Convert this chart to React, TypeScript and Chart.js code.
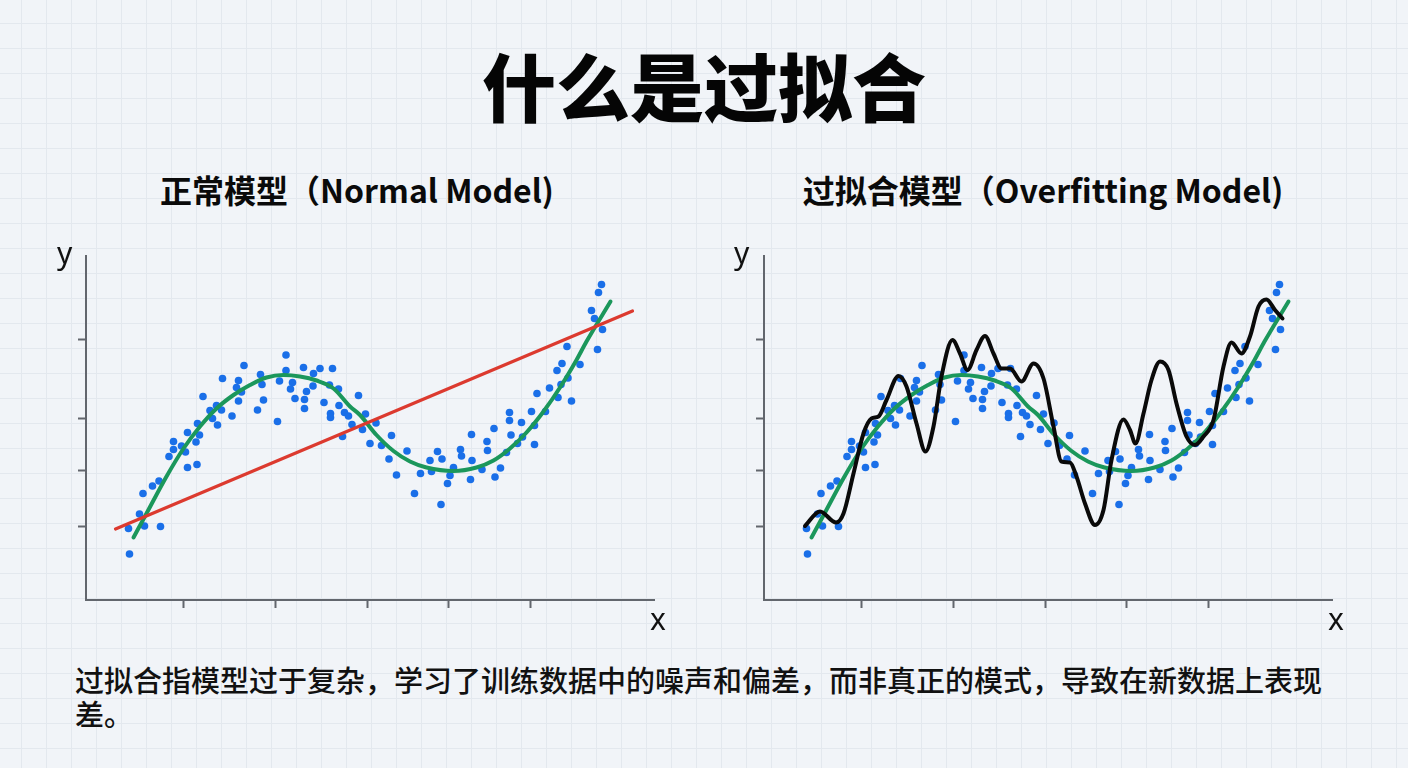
import React, { useEffect, useRef } from "react";
import { Chart, registerables } from "chart.js";

Chart.register(...registerables);

// Noisy training samples (shared by both panels)
const sampleX = [
  0.85, 0.87, 1.07, 1.17, 1.49, 1.14, 1.33, 1.46, 1.66, 1.75, 1.75, 1.91, 1.99, 2.03, 2.22, 2.03,
  2.2, 2.27, 2.23, 2.34, 2.48, 2.53, 2.63, 2.61, 2.71, 2.73, 2.92, 3.01, 3.05, 3.11, 3.05, 3.16,
  3.43, 3.49, 3.52, 3.55, 3.83, 3.87, 4.0, 4.0, 4.09, 4.13, 4.18, 4.35, 4.41, 4.37, 4.37, 4.54,
  4.55, 4.68, 4.93, 4.76, 4.87, 5.05, 5.06, 4.89, 4.89, 5.17, 5.25, 5.13, 5.45, 5.59, 5.53, 5.8,
  5.68, 5.91, 6.11, 6.06, 6.21, 6.42, 6.57, 6.69, 6.88, 6.91, 7.03, 7.12, 7.1, 7.23, 7.28, 7.35,
  7.49, 7.51, 7.69, 7.72, 7.71, 7.92, 8.02, 8.03, 8.16, 8.18, 8.29, 8.41, 8.47, 8.47, 8.5, 8.63,
  8.71, 8.73, 8.91, 8.97, 8.97, 9.02, 9.19, 9.27, 9.42, 9.44, 9.5, 9.52, 9.64, 9.71, 9.62, 9.88,
  10.23, 10.31, 10.25, 10.11, 10.17, 10.33, 5.32,
];
const sampleY = [
  1.43, 0.92, 1.72, 1.48, 1.47, 2.13, 2.28, 2.38, 2.87, 3.01, 3.17, 3.08, 2.96, 2.65, 2.71, 3.35,
  3.16, 3.3, 3.53, 4.07, 3.79, 3.63, 3.5, 3.89, 3.8, 4.43, 3.68, 4.25, 4.39, 4.16, 3.98, 4.69,
  3.8, 4.51, 4.31, 4.0, 3.57, 4.38, 4.9, 4.59, 4.22, 4.35, 4.03, 4.65, 4.17, 4.01, 3.83, 4.28,
  4.53, 4.63, 4.63, 3.95, 4.3, 4.22, 3.89, 3.73, 3.65, 3.75, 3.68, 3.27, 4.09, 3.72, 3.41, 3.54,
  3.13, 3.09, 3.29, 2.82, 2.5, 2.98, 2.13, 2.53, 2.79, 2.57, 2.97, 2.82, 1.91, 2.33, 2.49, 2.65,
  3.01, 2.88, 2.41, 2.79, 3.31, 2.61, 3.17, 2.99, 3.43, 2.46, 2.64, 2.95, 3.75, 3.59, 3.3, 3.13,
  3.55, 3.26, 3.77, 3.49, 3.11, 4.13, 3.77, 4.24, 4.59, 4.05, 4.31, 4.73, 4.44, 3.98, 5.07, 4.71,
  5.01, 6.31, 6.15, 5.79, 5.63, 5.41, 3.51,
];

// Well-fitted smooth model
const fitX = [
  0.95, 1.21, 1.61, 1.95, 2.28, 2.61, 2.95, 3.28, 3.61, 3.95, 4.28, 4.61, 4.95, 5.28, 5.48,
  5.81, 6.15, 6.48, 6.81, 7.35, 7.81, 8.15, 8.48, 8.81, 9.15, 9.48, 9.81, 10.01, 10.49,
];
const fitY = [
  1.25, 1.73, 2.47, 3.03, 3.47, 3.83, 4.1, 4.3, 4.45, 4.5, 4.47, 4.39, 4.23, 3.87, 3.7,
  3.3, 2.98, 2.77, 2.65, 2.58, 2.65, 2.79, 3.03, 3.35, 3.77, 4.25, 4.8, 5.17, 5.97,
];

// Straight-line model
const linearX = [0.59, 10.93];
const linearY = [1.42, 5.78];

// Overfitted model chasing the noise
const overfitX = [
  0.82, 1.12, 1.44, 1.59, 1.79, 1.99, 2.15, 2.29, 2.45, 2.69, 2.85, 3.05, 3.23, 3.39, 3.55,
  3.77, 3.92, 4.07, 4.25, 4.42, 4.59, 4.75, 4.92, 5.15, 5.39, 5.59, 5.79, 5.95, 6.12, 6.25,
  6.42, 6.62, 6.79, 6.95, 7.19, 7.32, 7.43, 7.59, 7.75, 7.92, 8.09, 8.25, 8.45, 8.62, 8.79,
  8.99, 9.19, 9.35, 9.55, 9.72, 9.89, 10.05, 10.22, 10.37,
];
const overfitY = [
  1.48, 1.77, 1.55, 1.73, 2.53, 3.33, 3.63, 3.67, 4.0, 4.48, 4.27, 3.53, 2.97, 3.47, 4.47,
  5.2, 4.93, 4.6, 5.0, 5.28, 4.93, 4.63, 4.63, 4.37, 4.73, 4.43, 3.47, 2.77, 2.75, 2.47,
  1.93, 1.5, 1.8, 2.8, 3.61, 3.4, 3.13, 3.73, 4.4, 4.77, 4.6, 3.93, 3.27, 3.1, 3.27,
  3.6, 4.67, 5.15, 4.93, 5.27, 5.87, 6.01, 5.8, 5.63,
];

const xTickValues = [1.94, 3.78, 5.62, 7.24, 8.88];
const yTickValues = [1.47, 2.59, 3.63, 5.21];
const X_MAX = 11.36;
const Y_MAX = 6.88;

const AXIS_COLOR = "#62666d";
const DOT_COLOR = "#1a6fe8";
const FIT_COLOR = "#1b975b";
const LINEAR_COLOR = "#dc3a2f";
const OVERFIT_COLOR = "#0a0a0a";

const zip = (xs: number[], ys: number[]) => xs.map((x, i) => ({ x, y: ys[i] }));

type LineSpec = { xs: number[]; ys: number[]; color: string; width: number; smooth: boolean };

function buildChart(canvas: HTMLCanvasElement, lines: LineSpec[]) {
  const lineSets = lines.map((l) => ({
    data: zip(l.xs, l.ys),
    showLine: true,
    borderColor: l.color,
    borderWidth: l.width,
    pointRadius: 0,
    fill: false,
    cubicInterpolationMode: l.smooth ? ("monotone" as const) : ("default" as const),
    borderCapStyle: "round" as const,
  }));
  const axis = (ticks: number[], min: number, max: number) => ({
    type: "linear" as const,
    min,
    max,
    afterBuildTicks: (a: any) => {
      a.ticks = ticks.map((value) => ({ value }));
    },
    ticks: { display: false },
    grid: {
      display: true,
      drawOnChartArea: false,
      drawTicks: true,
      tickLength: 8,
      tickColor: AXIS_COLOR,
      tickWidth: 2,
    },
    border: { display: true, color: AXIS_COLOR, width: 2 },
  });
  return new Chart(canvas, {
    type: "scatter",
    data: {
      datasets: [
        ...lineSets,
        {
          data: zip(sampleX, sampleY),
          backgroundColor: DOT_COLOR,
          borderWidth: 0,
          pointRadius: 3.8,
        },
      ],
    },
    options: {
      animation: false,
      responsive: false,
      devicePixelRatio: 1,
      events: [],
      layout: { padding: { left: 38, top: 16, right: 26, bottom: 12 } },
      plugins: { legend: { display: false }, tooltip: { enabled: false } },
      scales: {
        x: axis(xTickValues, 0, X_MAX),
        y: axis(yTickValues, 0, Y_MAX),
      },
    },
  });
}

function Panel({ left, lines }: { left: number; lines: LineSpec[] }) {
  const ref = useRef<HTMLCanvasElement>(null);
  useEffect(() => {
    if (!ref.current) return;
    const chart = buildChart(ref.current, lines);
    return () => chart.destroy();
  }, []);
  return (
    <canvas
      ref={ref}
      width={640}
      height={380}
      style={{ position: "absolute", left, top: 240, width: 640, height: 380 }}
    />
  );
}

const cjk = '"Noto Sans CJK SC", "Noto Sans", sans-serif';
const axisLetter: React.CSSProperties = {
  position: "absolute",
  fontFamily: '"Noto Sans", "DejaVu Sans", sans-serif',
  fontSize: 30,
  lineHeight: "30px",
  color: "#111",
};
const subtitle: React.CSSProperties = {
  position: "absolute",
  width: 600,
  top: 172,
  textAlign: "center",
  fontSize: 32,
  lineHeight: "34px",
  fontWeight: 700,
  color: "#0a0a0a",
};

export default function App() {
  return (
    <div
      style={{
        position: "fixed",
        left: 0,
        top: 0,
        width: 1408,
        height: 768,
        overflow: "hidden",
        backgroundColor: "#f1f4f8",
        backgroundImage:
          "linear-gradient(to right, #e3e8ee 1px, transparent 1px), linear-gradient(to bottom, #e3e8ee 1px, transparent 1px)",
        backgroundSize: "25px 25px",
        backgroundPosition: "21px 23px",
        fontFamily: cjk,
      }}
    >
      <div
        style={{
          position: "absolute",
          left: 0,
          top: 47,
          width: 1408,
          textAlign: "center",
          fontSize: 74,
          lineHeight: "74px",
          fontWeight: 900,
          color: "#050505",
        }}
      >
        什么是过拟合
      </div>
      <div style={{ ...subtitle, left: 57 }}>正常模型（Normal Model)</div>
      <div style={{ ...subtitle, left: 743 }}>过拟合模型（Overfitting Model)</div>

      <Panel
        left={40}
        lines={[
          { xs: linearX, ys: linearY, color: LINEAR_COLOR, width: 3.2, smooth: false },
          { xs: fitX, ys: fitY, color: FIT_COLOR, width: 4, smooth: true },
        ]}
      />
      <Panel
        left={718}
        lines={[
          { xs: overfitX, ys: overfitY, color: OVERFIT_COLOR, width: 4, smooth: true },
          { xs: fitX, ys: fitY, color: FIT_COLOR, width: 4, smooth: true },
        ]}
      />

      <span style={{ ...axisLetter, left: 57, top: 238 }}>y</span>
      <span style={{ ...axisLetter, left: 650, top: 604 }}>x</span>
      <span style={{ ...axisLetter, left: 734, top: 238 }}>y</span>
      <span style={{ ...axisLetter, left: 1328, top: 604 }}>x</span>

      <div
        style={{
          position: "absolute",
          left: 75,
          top: 662,
          fontSize: 29,
          lineHeight: "34px",
          fontWeight: 500,
          color: "#111",
          whiteSpace: "nowrap",
        }}
      >
        过拟合指模型过于复杂，学习了训练数据中的噪声和偏差，而非真正的模式，导致在新数据上表现
        <br />
        差。
      </div>
    </div>
  );
}
